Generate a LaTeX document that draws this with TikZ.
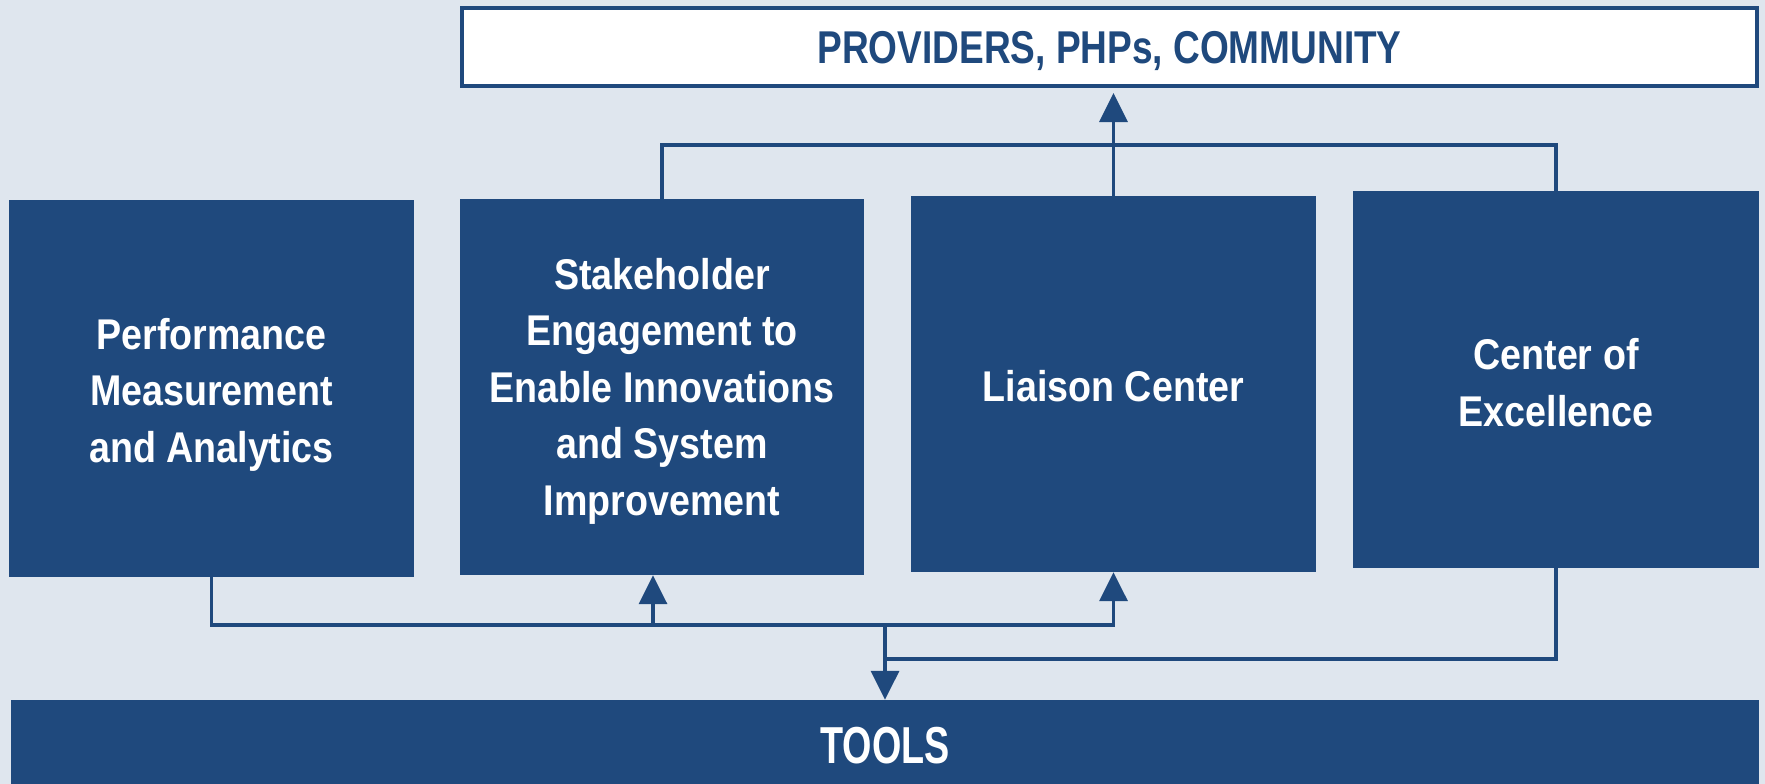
\documentclass[tikz,border=0pt]{standalone}
\usepackage{fontspec}
\setmainfont{Liberation Sans}
\newfontfamily\boxfont{Liberation Sans}[FakeStretch=0.875]
\newfontfamily\topfont{Liberation Sans}[FakeStretch=0.805]
\newfontfamily\toolfont{Liberation Sans}[FakeStretch=0.726]
\usetikzlibrary{arrows.meta}
\definecolor{navy}{HTML}{1F497D}
\definecolor{bgc}{HTML}{DFE6EE}
\newcommand\topstrut[1]{\rule{0pt}{#1}}
\tikzset{
  bluebox/.style={fill=navy, text=white, inner sep=0pt, align=center,
    font=\boxfont\bfseries\fontsize{43}{56.5}\selectfont},
  conn/.style={draw=navy, line width=3.5pt, line join=miter, line cap=rect},
  arr/.style={draw=navy, line width=3.5pt, line cap=butt,
    -{Triangle[length=29pt,width=28pt]}, fill=navy},
}
\begin{document}
\begin{tikzpicture}[x=1pt,y=-1pt]
\fill[bgc] (0,0) rectangle (1765,784);
\useasboundingbox (0,0) rectangle (1765,784);
% top box
\node[draw=navy, line width=4pt, fill=white, inner sep=0pt,
  minimum width=1295pt, minimum height=78pt, text=navy,
  font=\topfont\bfseries\fontsize{46}{50}\selectfont] (top) at (1109.5,47) {\topstrut{40pt}PROVIDERS, PHPs, COMMUNITY};
% main boxes
\node[bluebox, minimum width=405pt, minimum height=377pt] (b1) at (211.5,388.5)
  {\topstrut{43pt}Performance\\Measurement\\and Analytics};
\node[bluebox, minimum width=404pt, minimum height=376pt] (b2) at (662,387)
  {\topstrut{39pt}Stakeholder\\Engagement to\\Enable Innovations\\and System\\Improvement};
\node[bluebox, minimum width=405pt, minimum height=376pt] (b3) at (1113.5,384)
  {\topstrut{36pt}Liaison Center};
\node[bluebox, minimum width=406pt, minimum height=377pt] (b4) at (1556,379.5)
  {\topstrut{37.5pt}Center of\\Excellence};
% tools bar
\node[fill=navy, text=white, inner sep=0pt, minimum width=1748pt, minimum height=84pt,
  font=\toolfont\bfseries\fontsize{52}{56}\selectfont] (tools) at (885,742) {\topstrut{44pt}TOOLS};
% coordinates
\coordinate (topY) at (0,145);
\coordinate (busY) at (0,625);
\coordinate (lowY) at (0,659);
% top connectors
\draw[conn] (b2.north) |- (b4.north |- topY) -- (b4.north);
\draw[arr, shorten >=5pt] (b3.north) -- (b3.north |- top.south);
% bottom connectors
\draw[conn] (b1.south) |- (b3.south |- busY);
\draw[arr] ([xshift=-9pt]b2.south |- busY) -- ([xshift=-9pt]b2.south);
\draw[arr] (b3.south |- busY) -- (b3.south);
\draw[conn] (b4.south) |- (tools.north |- lowY);
\draw[arr] (tools.north |- busY) -- (tools.north);
\end{tikzpicture}
\end{document}
